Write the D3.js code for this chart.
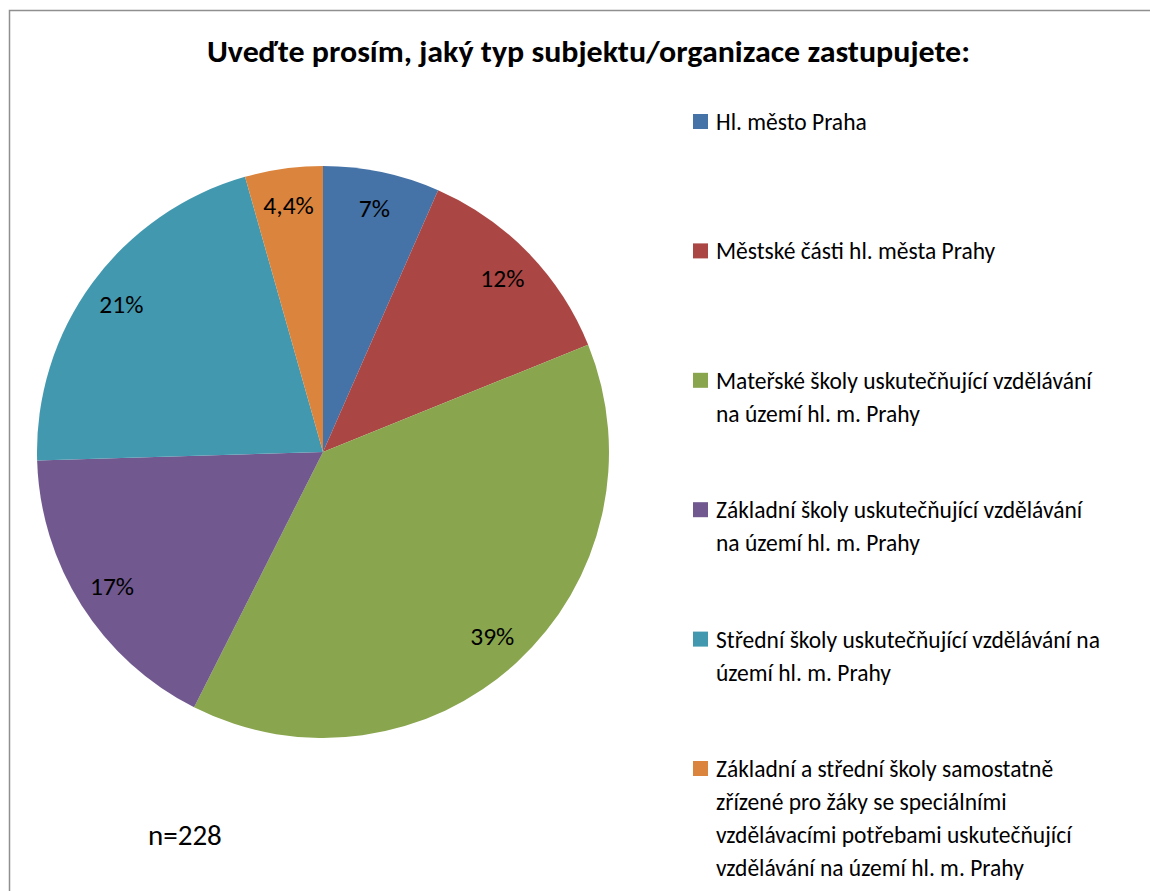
<!DOCTYPE html>
<html>
<head>
<meta charset="utf-8">
<script src="https://cdn.jsdelivr.net/npm/d3@7"></script>
<style>
  body { margin: 0; background: #fff; }
  svg text { font-family: Carlito, Calibri, "Liberation Sans", Arial, sans-serif; fill: #000; }
</style>
</head>
<body>
<svg id="chart" width="1150" height="891"></svg>
<script>
(function () {

// Data: share of respondents (%), n=228, clockwise from 12 o'clock
var categories = [
	["Hl. město Praha"],
	["Městské části hl. města Prahy"],
	["Mateřské školy uskutečňující vzdělávání", "na území hl. m. Prahy"],
	["Základní školy uskutečňující vzdělávání", "na území hl. m. Prahy"],
	["Střední školy uskutečňující vzdělávání na", "území hl. m. Prahy"],
	["Základní a střední školy samostatně", "zřízené pro žáky se speciálními", "vzdělávacími potřebami uskutečňující", "vzdělávání na území hl. m. Prahy"]
];
var values = [6.6, 12.3, 38.6, 17.1, 21.1, 4.4];
var valueLabels = ["7%", "12%", "39%", "17%", "21%", "4,4%"];
var colors = ["#4572A7", "#AA4643", "#89A54E", "#71588F", "#4198AF", "#DB843D"];
var title = "Uveďte prosím, jaký typ subjektu/organizace zastupujete:";
var note = "n=228";

var svg = d3.select('#chart');

// outer chart frame (right and bottom edges fall outside the picture)
svg.append('rect')
	.attr('x', 9.5).attr('y', 10.5)
	.attr('width', 1200).attr('height', 1000)
	.attr('fill', 'none')
	.attr('stroke', '#8f8f8f')
	.attr('stroke-width', 1.5);

svg.append('text')
	.attr('x', 588.5).attr('y', 62)
	.attr('text-anchor', 'middle')
	.attr('font-weight', 'bold')
	.attr('font-size', 30)
	.attr('textLength', 763)
	.attr('lengthAdjust', 'spacingAndGlyphs')
	.text(title);

// pie
var cx = 323, cy = 452, radius = 286;

var pie = d3.pie().sort(null).value(function (d) { return d; });
var arcs = pie(values);

var arc = d3.arc().innerRadius(0).outerRadius(radius);
var labelArc = d3.arc().innerRadius(250).outerRadius(250);

var g = svg.append('g').attr('transform', 'translate(' + cx + ',' + cy + ')');

g.selectAll('path.slice')
	.data(arcs)
	.enter().append('path')
	.attr('class', 'slice')
	.attr('d', arc)
	.attr('fill', function (d, i) { return colors[i]; });

g.selectAll('text.value')
	.data(arcs)
	.enter().append('text')
	.attr('class', 'value')
	.attr('transform', function (d) { return 'translate(' + labelArc.centroid(d) + ')'; })
	.attr('text-anchor', 'middle')
	.attr('dy', '0.36em')
	.attr('font-size', 25.5)
	.text(function (d, i) { return valueLabels[i]; });

// legend
var legendX = 693, legendTop = 130, itemStep = 129.4, lineStep = 33;

var items = svg.append('g').selectAll('g.item')
	.data(categories)
	.enter().append('g')
	.attr('class', 'item')
	.attr('transform', function (d, i) { return 'translate(' + legendX + ',' + (legendTop + i * itemStep) + ')'; });

items.append('rect')
	.attr('x', 0).attr('y', -16)
	.attr('width', 15).attr('height', 15)
	.attr('fill', function (d, i) { return colors[i]; });

items.append('text')
	.attr('font-size', 23.5)
	.selectAll('tspan')
	.data(function (d) { return d; })
	.enter().append('tspan')
	.attr('x', 23)
	.attr('y', function (d, j) { return j * lineStep; })
	.text(function (d) { return d; });

svg.append('text')
	.attr('x', 148).attr('y', 845)
	.attr('font-size', 29)
	.text(note);

})();
</script>
</body>
</html>
